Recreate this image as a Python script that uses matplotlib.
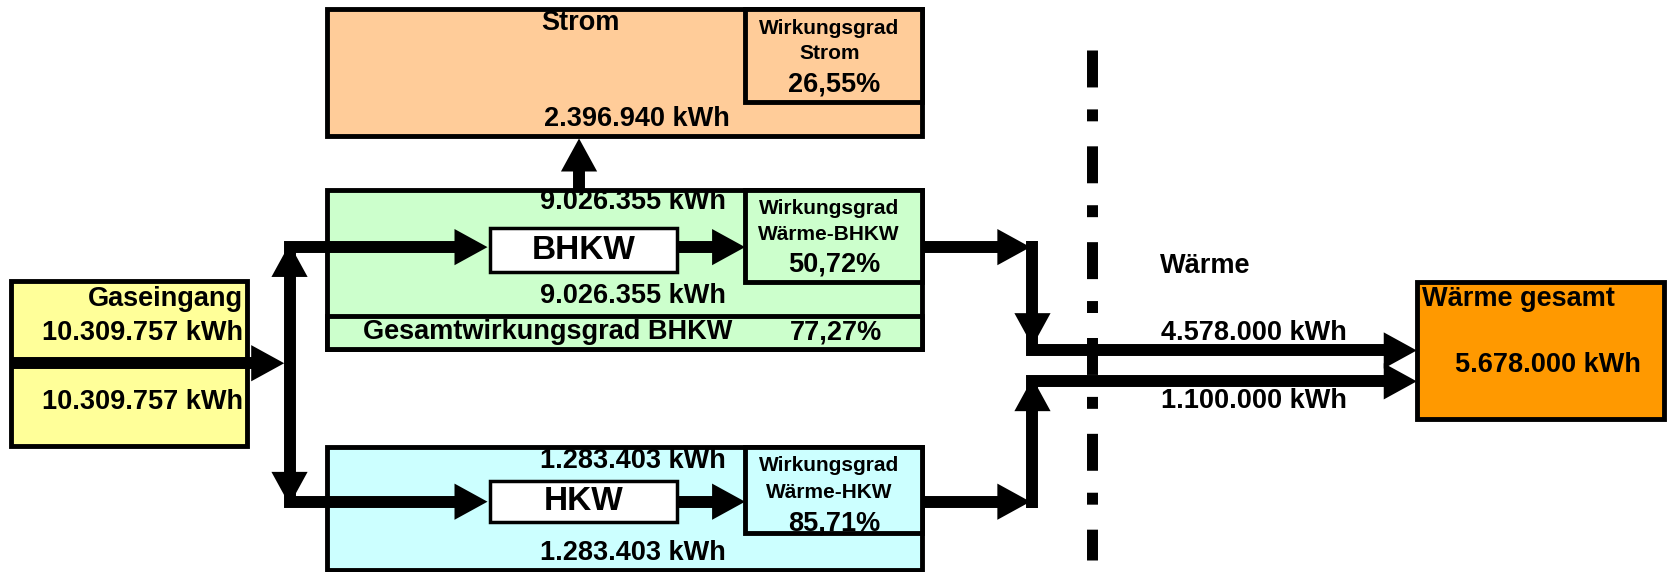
import matplotlib.pyplot as plt
from matplotlib.patches import Rectangle, Polygon

# energy values (kWh) and efficiencies (%)
gas_in_kwh = 10309757
bhkw_in_kwh = 9026355
hkw_in_kwh = 1283403
strom_kwh = 2396940
waerme_bhkw_kwh = 4578000
waerme_hkw_kwh = 1100000
waerme_total_kwh = 5678000
eta_strom = 26.55
eta_waerme_bhkw = 50.72
eta_waerme_hkw = 85.71
eta_gesamt_bhkw = 77.27

plt.rcParams['font.family'] = ['Liberation Sans', 'DejaVu Sans']
plt.rcParams['font.weight'] = 'bold'
plt.rcParams['lines.scale_dashes'] = False


def kwh(v):
    return f"{v:,}".replace(",", ".") + " kWh"


def pct(v):
    return f"{v:.2f}".replace(".", ",") + "%"


fig = plt.figure(figsize=(16.69, 5.72), dpi=100)
ax = fig.add_axes([0, 0, 1, 1])
ax.set_xlim(0, 1568)
ax.set_ylim(537, 0)
ax.axis('off')

LW = 8.6
HL, HW = 31, 17
BIG, SMALL = 19.5, 15


def box(x0, y0, x1, y1, color, lw=3.5, z=1):
    ax.add_patch(Rectangle((x0, y0), x1 - x0, y1 - y0, facecolor=color,
                           edgecolor='black', lw=lw, zorder=z))


def head(tip, d):
    x, y = tip
    dx, dy = d
    bx, by = x - dx * HL, y - dy * HL
    px, py = -dy * HW, dx * HW
    ax.add_patch(Polygon([(x, y), (bx + px, by + py), (bx - px, by - py)],
                         closed=True, facecolor='black', edgecolor='none', zorder=5))


def flow(pts, end_head=True):
    xs = [p[0] for p in pts]
    ys = [p[1] for p in pts]
    if end_head:
        dx = xs[-1] - xs[-2]
        dy = ys[-1] - ys[-2]
        n = (dx ** 2 + dy ** 2) ** 0.5
        d = (dx / n, dy / n)
        tip = (xs[-1], ys[-1])
        xs[-1] -= d[0] * (HL - 4)
        ys[-1] -= d[1] * (HL - 4)
    ax.plot(xs, ys, color='black', lw=LW, solid_capstyle='butt',
            solid_joinstyle='miter', zorder=4)
    if end_head:
        head(tip, d)


def txt(x, y, s, size=BIG, ha='center'):
    ax.text(x, y, s, fontsize=size, ha=ha, va='center', color='black',
            fontweight='bold', zorder=6)


# boxes
box(307, 8, 866, 128, '#FFCC99')
box(700, 8, 866, 96, '#FFCC99', z=2)
box(307, 178, 866, 328, '#CCFFCC')
box(700, 178, 866, 265, '#CCFFCC', z=2)
box(307, 297, 866, 328, '#CCFFCC', z=2)
box(460, 214, 636, 255, 'white', lw=2.5, z=2)
box(307, 420, 866, 535, '#CCFFFF')
box(700, 420, 866, 500, '#CCFFFF', z=2)
box(460, 452, 636, 490, 'white', lw=2.5, z=2)
box(10, 264, 232, 419, '#FFFF99')
box(1331, 265, 1563, 393, '#FF9900')

# flows
flow([(10, 341), (267, 341)])
flow([(272, 341), (272, 232), (458, 232)])
flow([(272, 341), (272, 471), (458, 471)])
head((272, 229), (0, -1))
head((272, 474), (0, 1))
flow([(637, 232), (700, 232)])
flow([(637, 471), (700, 471)])
flow([(544, 178), (544, 130)])
flow([(866, 232), (968, 232)])
flow([(866, 471), (968, 471)])
flow([(970, 226), (970, 329), (1331, 329)])
head((970, 325), (0, 1))
flow([(970, 477), (970, 358), (1331, 358)])
head((970, 355), (0, -1))

# dash-dot separator
ax.plot([1026, 1026], [47, 526], color='black', lw=7.9, solid_capstyle='butt',
        dashes=(26.6, 15.8, 8.6, 18), dash_capstyle='butt', zorder=3)

# texts
txt(545, 22, "Strom")
txt(779, 27, "Wirkungsgrad", SMALL)
txt(779, 50, "Strom", SMALL)
txt(784, 79, pct(eta_strom))
txt(598, 112, kwh(strom_kwh))

txt(595, 190, kwh(bhkw_in_kwh))
txt(548, 235, "BHKW", 24)
txt(595, 278, kwh(bhkw_in_kwh))
txt(779, 196, "Wirkungsgrad", SMALL)
txt(779, 220, "Wärme-BHKW", SMALL)
txt(784, 248, pct(eta_waerme_bhkw))
txt(515, 312, "Gesamtwirkungsgrad BHKW")
txt(785, 312, pct(eta_gesamt_bhkw))

txt(595, 433, kwh(hkw_in_kwh))
txt(548, 471, "HKW", 24)
txt(595, 519, kwh(hkw_in_kwh))
txt(779, 437, "Wirkungsgrad", SMALL)
txt(779, 462, "Wärme-HKW", SMALL)
txt(784, 491, pct(eta_waerme_hkw))

txt(228, 281, "Gaseingang", ha='right')
txt(228, 313, kwh(gas_in_kwh), ha='right')
txt(228, 377, kwh(gas_in_kwh), ha='right')

txt(1090, 250, "Wärme", ha='left')
txt(1178, 313, kwh(waerme_bhkw_kwh))
txt(1178, 376, kwh(waerme_hkw_kwh))
txt(1336, 281, "Wärme gesamt", ha='left')
txt(1454, 343, kwh(waerme_total_kwh))

fig.savefig('out.png', dpi=100)
